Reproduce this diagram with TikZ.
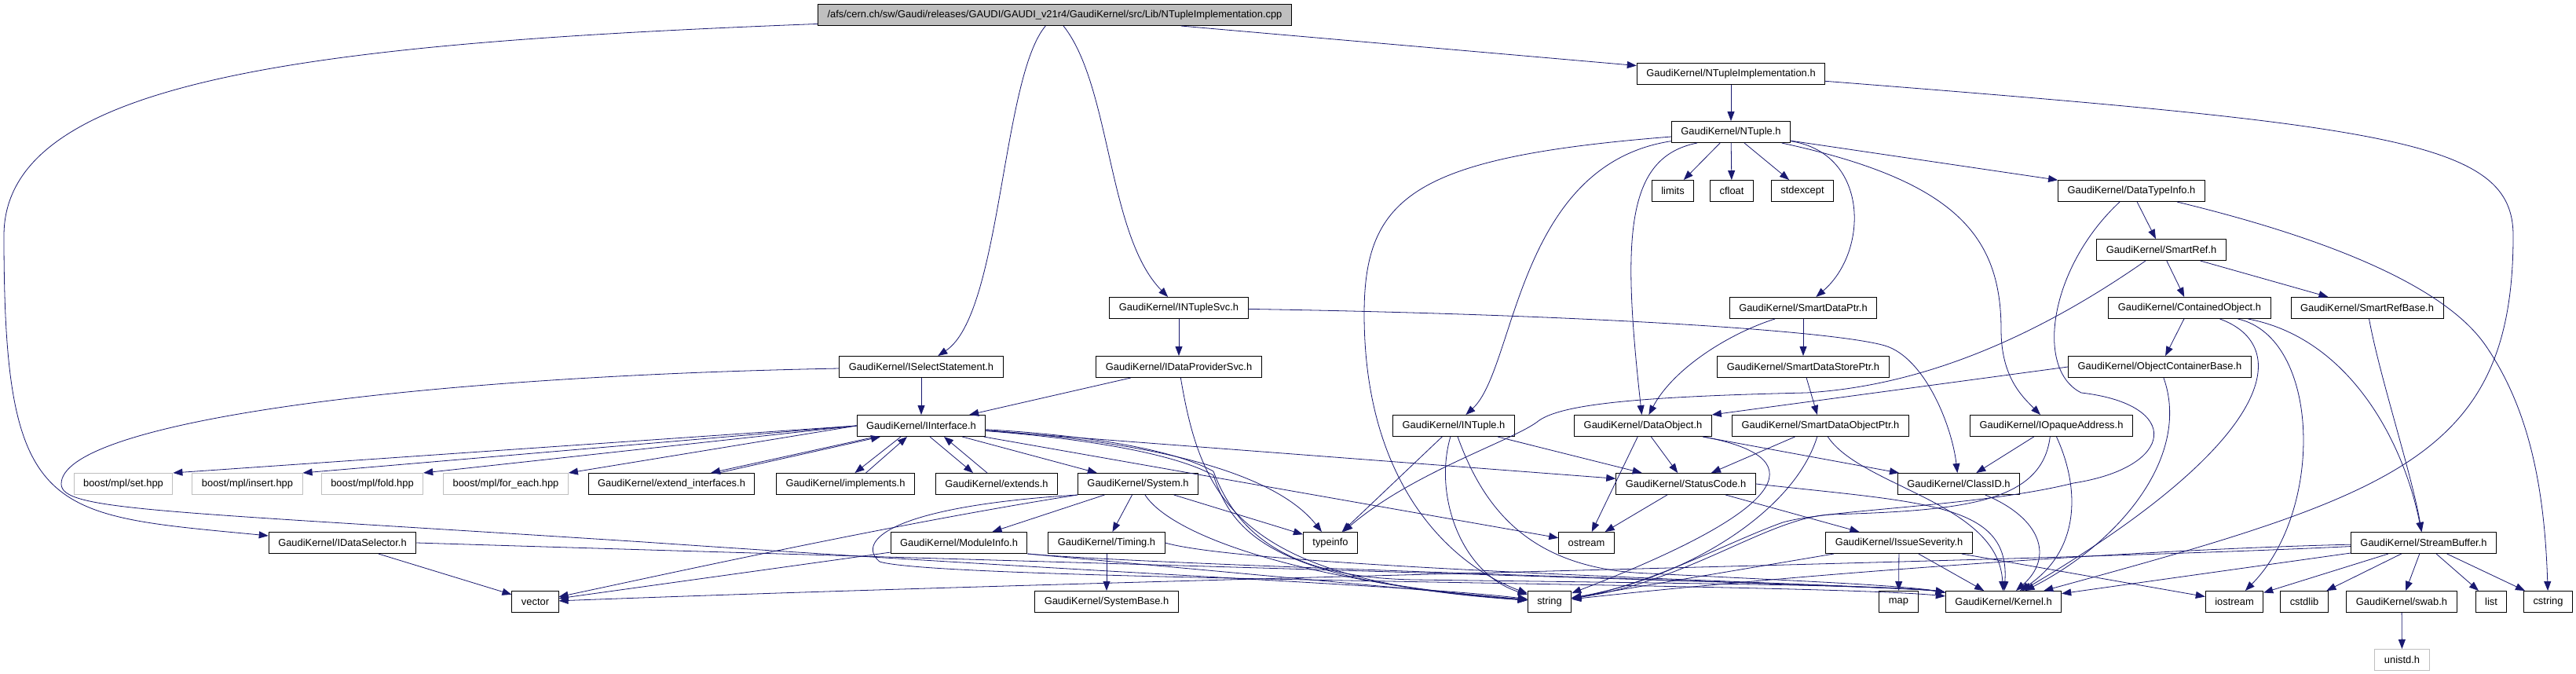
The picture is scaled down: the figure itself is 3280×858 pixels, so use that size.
\documentclass[tikz,border=0pt]{standalone}
\usepackage{fontspec}
\setmainfont{Liberation Sans}
\usetikzlibrary{arrows.meta}
\definecolor{edgeblue}{HTML}{191970}
\definecolor{hdrgray}{HTML}{BFBFBF}
\begin{document}
\begin{tikzpicture}[x=1pt,y=-1pt,
  hfile/.style={draw=black,line width=1pt,minimum height=27pt,inner xsep=12pt,inner ysep=0pt,
    font=\fontsize{12.9}{15}\selectfont},
  sysfile/.style={hfile,draw=hdrgray},
  root/.style={hfile,fill=hdrgray},
  dep/.style={draw=edgeblue,line width=0.8pt,-{Triangle[length=12pt,width=9pt]}}]
  \fill[white] (0,0) rectangle (3280,858);
  \useasboundingbox (0,0) rectangle (3280,858);

  % files, row by row
  \node[root] (top) at (1343,19) {/afs/cern.ch/sw/Gaudi/releases/GAUDI/GAUDI\_v21r4/GaudiKernel/src/Lib/NTupleImplementation.cpp};
  \node[hfile] (ntimpl) at (2204,94) {GaudiKernel/NTupleImplementation.h};
  \node[hfile] (ntuple) at (2204,168) {GaudiKernel/NTuple.h};
  \node[hfile] (limits) at (2130,243) {limits};
  \node[hfile] (cfloat) at (2205,243) {cfloat};
  \node[hfile] (stdexcept) at (2295,243) {stdexcept};
  \node[hfile] (dtinfo) at (2714,243) {GaudiKernel/DataTypeInfo.h};
  \node[hfile] (smartref) at (2752,318) {GaudiKernel/SmartRef.h};
  \node[hfile] (ntsvc) at (1501,392) {GaudiKernel/INTupleSvc.h};
  \node[hfile] (sdptr) at (2296,392) {GaudiKernel/SmartDataPtr.h};
  \node[hfile] (contobj) at (2788,392) {GaudiKernel/ContainedObject.h};
  \node[hfile] (srbase) at (3014,392) {GaudiKernel/SmartRefBase.h};
  \node[hfile] (selstmt) at (1173,467) {GaudiKernel/ISelectStatement.h};
  \node[hfile] (dpsvc) at (1501,467) {GaudiKernel/IDataProviderSvc.h};
  \node[hfile] (sdsptr) at (2296,467) {GaudiKernel/SmartDataStorePtr.h};
  \node[hfile] (objcont) at (2750,467) {GaudiKernel/ObjectContainerBase.h};
  \node[hfile] (iface) at (1173,542) {GaudiKernel/IInterface.h};
  \node[hfile] (intuple) at (1851,542) {GaudiKernel/INTuple.h};
  \node[hfile] (dataobj) at (2092,542) {GaudiKernel/DataObject.h};
  \node[hfile] (sdoptr) at (2318,542) {GaudiKernel/SmartDataObjectPtr.h};
  \node[hfile] (iopaque) at (2612,542) {GaudiKernel/IOpaqueAddress.h};
  \node[sysfile] (mplset) at (157,616) {boost/mpl/set.hpp};
  \node[sysfile] (mplinsert) at (315,616) {boost/mpl/insert.hpp};
  \node[sysfile] (mplfold) at (474,616) {boost/mpl/fold.hpp};
  \node[sysfile] (mplforeach) at (644,616) {boost/mpl/for\_each.hpp};
  \node[hfile] (extif) at (855,616) {GaudiKernel/extend\_interfaces.h};
  \node[hfile] (implem) at (1076.5,616) {GaudiKernel/implements.h};
  \node[hfile] (extends) at (1269,616) {GaudiKernel/extends.h};
  \node[hfile] (system) at (1449,616) {GaudiKernel/System.h};
  \node[hfile] (statcode) at (2146.5,616) {GaudiKernel/StatusCode.h};
  \node[hfile] (classid) at (2494,616) {GaudiKernel/ClassID.h};
  \node[hfile] (datasel) at (436,691) {GaudiKernel/IDataSelector.h};
  \node[hfile] (modinfo) at (1221,691) {GaudiKernel/ModuleInfo.h};
  \node[hfile] (timing) at (1409,691) {GaudiKernel/Timing.h};
  \node[hfile] (typeinfo) at (1694,691) {typeinfo};
  \node[hfile] (ostream) at (2020,691) {ostream};
  \node[hfile] (issue) at (2418,691) {GaudiKernel/IssueSeverity.h};
  \node[hfile] (strbuf) at (3086,691) {GaudiKernel/StreamBuffer.h};
  \node[hfile] (vector) at (681.5,766) {vector};
  \node[hfile] (sysbase) at (1409,766) {GaudiKernel/SystemBase.h};
  \node[hfile] (string) at (1973,766) {string};
  \node[hfile] (map) at (2417.5,766) {map};
  \node[hfile] (kernel) at (2551,766) {GaudiKernel/Kernel.h};
  \node[hfile] (iostream) at (2845,766) {iostream};
  \node[hfile] (cstdlib) at (2934,766) {cstdlib};
  \node[hfile] (swab) at (3058,766) {GaudiKernel/swab.h};
  \node[hfile] (list) at (3172,766) {list};
  \node[hfile] (cstring) at (3244.5,766) {cstring};
  \node[sysfile] (unistd) at (3058.5,840) {unistd.h};

  % source file
  \draw[dep] (top) -- (ntimpl);
  \draw[dep] (top) .. controls (1415,110) and (1410,300) .. (ntsvc);
  \draw[dep] (top) .. controls (1275,100) and (1275,400) .. (selstmt);
  \draw[dep] (top) .. controls (400,55) and (5,100) .. (5,300) .. controls (5,660) and (60,655) .. (datasel);

  \draw[dep] (ntimpl) -- (ntuple);
  \draw[dep] (ntimpl) .. controls (3050,160) and (3200,180) .. (3200,300) .. controls (3200,580) and (3050,630) .. (kernel);

  % NTuple.h
  \draw[dep] (ntuple) -- (limits);
  \draw[dep] (ntuple) -- (cfloat);
  \draw[dep] (ntuple) -- (stdexcept);
  \draw[dep] (ntuple) -- (dtinfo);
  \draw[dep] (ntuple) .. controls (2380,195) and (2380,320) .. (sdptr);
  \draw[dep] (ntuple) .. controls (2490,230) and (2548,300) .. (2548,420) .. controls (2548,480) and (2575,505) .. (iopaque);
  \draw[dep] ([xshift=-43pt]ntuple.south) .. controls (2070,200) and (2065,300) .. (dataobj);
  \draw[dep] (ntuple) .. controls (1930,210) and (1930,470) .. (intuple);
  \draw[dep] (ntuple) .. controls (1800,200) and (1737,250) .. (1737,400) .. controls (1737,620) and (1850,720) .. (string);

  \draw[dep] (ntsvc) -- (dpsvc);
  \draw[dep] (ntsvc) .. controls (2000,400) and (2330,420) .. (2400,440) .. controls (2450,455) and (2485,540) .. (classid);
  \draw[dep] (dpsvc) -- (iface);
  \draw[dep] (dpsvc) .. controls (1530,640) and (1580,740) .. (string);
  \draw[dep] (selstmt) -- (iface);
  \draw[dep] (selstmt) .. controls (500,480) and (78,540) .. (78,616) .. controls (78,650) and (200,650) .. (820,690) .. controls (1400,730) and (1800,745) .. (string);
  \draw[dep] (datasel) -- (vector);
  \draw[dep] (datasel.east) .. controls (1200,712) and (2420,745) .. (kernel);

  % IInterface.h
  \draw[dep] (iface.west) -- (mplset.north east);
  \draw[dep] (iface.west) -- (mplinsert.north east);
  \draw[dep] (iface.west) -- (mplfold.north east);
  \draw[dep] (iface.west) -- (mplforeach.north east);
  \draw[dep] ([xshift=-58pt]iface.south) -- ([xshift=50pt]extif.north);
  \draw[dep] ([xshift=60pt]extif.north) -- ([xshift=-52pt]iface.south);
  \draw[dep] ([xshift=-26pt]iface.south) -- ([xshift=12pt]implem.north);
  \draw[dep] ([xshift=26pt]implem.north) -- ([xshift=-18pt]iface.south);
  \draw[dep] ([xshift=11pt]iface.south) -- ([xshift=-30pt]extends.north);
  \draw[dep] ([xshift=-12pt]extends.north) -- ([xshift=29pt]iface.south);
  \draw[dep] (iface) -- (system);
  \draw[dep] (iface) .. controls (1500,565) and (1630,610) .. (typeinfo);
  \draw[dep] (iface) -- (ostream);
  \draw[dep] (iface) -- (statcode);
  \draw[dep] (iface) .. controls (1400,560) and (1500,580) .. (1545,605) .. controls (1570,680) and (1620,740) .. (string);
  \draw[dep] (iface) .. controls (1400,555) and (1500,575) .. (1545,600) .. controls (1575,680) and (1640,735) .. (1800,738) .. controls (2100,742) and (2420,745) .. (kernel);

  % System.h
  \draw[dep] (system) -- (modinfo);
  \draw[dep] (system) -- (timing);
  \draw[dep] (system) -- (typeinfo);
  \draw[dep] (system.south west) .. controls (1130,668) and (820,737) .. (vector);
  \draw[dep] (system) .. controls (1490,680) and (1650,740) .. (string);
  \draw[dep] (system.south west) .. controls (1130,645) and (1090,690) .. (1120,715) .. controls (1200,740) and (2300,742) .. (kernel);
  \draw[dep] (modinfo) -- (vector);
  \draw[dep] (modinfo.south east) .. controls (1450,718) and (1800,750) .. (string);
  \draw[dep] (modinfo.south east) .. controls (1500,722) and (2420,745) .. (kernel);
  \draw[dep] (timing) -- (sysbase);
  \draw[dep] (timing.east) .. controls (1600,725) and (2420,745) .. (kernel);

  % INTuple.h, DataObject.h and the smart pointers
  \draw[dep] (intuple) -- (typeinfo);
  \draw[dep] (intuple) .. controls (1825,630) and (1860,730) .. (string);
  \draw[dep] (intuple) -- (statcode);
  \draw[dep] (intuple) .. controls (1890,650) and (1950,725) .. (2100,730) .. controls (2300,740) and (2420,745) .. (kernel);
  \draw[dep] (dataobj) -- (ostream);
  \draw[dep] (dataobj) -- (statcode);
  \draw[dep] (dataobj) -- (classid);
  \draw[dep] (dataobj) .. controls (2300,580) and (2300,640) .. (string);
  \draw[dep] (sdptr) -- (sdsptr);
  \draw[dep] ([xshift=-36pt]sdptr.south) .. controls (2200,425) and (2130,470) .. (dataobj);
  \draw[dep] (sdsptr) -- (sdoptr);
  \draw[dep] (sdoptr) -- (statcode);
  \draw[dep] (sdoptr) .. controls (2285,650) and (2150,735) .. (string);
  \draw[dep] (sdoptr) .. controls (2370,620) and (2545,640) .. (kernel);

  \draw[dep] (statcode) -- (ostream);
  \draw[dep] (statcode) -- (issue);
  \draw[dep] (statcode.east) .. controls (2450,640) and (2560,640) .. (kernel);
  \draw[dep] (issue) -- (map);
  \draw[dep] (issue) -- (string);
  \draw[dep] (issue) -- (iostream);
  \draw[dep] (issue) -- (kernel);
  \draw[dep] (classid) .. controls (2600,660) and (2615,710) .. (kernel);
  \draw[dep] (iopaque) -- (classid);
  \draw[dep] (iopaque) .. controls (2600,640) and (2500,650) .. (2330,655) .. controls (2250,660) and (2150,740) .. (string);
  \draw[dep] (iopaque) .. controls (2648,620) and (2650,700) .. (kernel);

  % DataTypeInfo.h and SmartRef.h
  \draw[dep] (dtinfo) -- (smartref);
  \draw[dep] (dtinfo) .. controls (2950,300) and (3110,360) .. (3165,440) .. controls (3220,520) and (3240,620) .. (cstring);
  \draw[dep] (dtinfo) .. controls (2610,340) and (2590,470) .. (2650,500) .. controls (2780,515) and (2770,595) .. (2640,615) .. controls (2520,645) and (2330,648) .. (2270,665) .. controls (2200,690) and (2100,745) .. (string);
  \draw[dep] (smartref) -- (contobj);
  \draw[dep] (smartref) -- (srbase);
  \draw[dep] (smartref) .. controls (2620,410) and (2470,490) .. (2300,500) .. controls (2080,505) and (1990,515) .. (1960,535) .. controls (1930,560) and (1800,600) .. (typeinfo);
  \draw[dep] (contobj) -- (objcont);
  \draw[dep] (contobj) .. controls (2920,440) and (2900,560) .. (kernel);
  \draw[dep] (contobj) .. controls (2955,430) and (2960,650) .. (iostream);
  \draw[dep] (contobj) .. controls (2990,430) and (3060,560) .. (strbuf);
  \draw[dep] (srbase) .. controls (3030,480) and (3070,600) .. (strbuf);
  \draw[dep] (objcont.west) -- (dataobj.north east);
  \draw[dep] (objcont) .. controls (2790,580) and (2700,690) .. (kernel);

  % StreamBuffer.h
  \draw[dep] (strbuf) .. controls (2700,700) and (2250,735) .. (string);
  \draw[dep] (strbuf) .. controls (2600,715) and (1500,735) .. (vector);
  \draw[dep] (strbuf) -- (kernel);
  \draw[dep] (strbuf) -- (iostream);
  \draw[dep] (strbuf) -- (cstdlib);
  \draw[dep] (strbuf) -- (swab);
  \draw[dep] (strbuf) -- (list);
  \draw[dep] (strbuf) -- (cstring);
  \draw[dep] (swab) -- (unistd);
\end{tikzpicture}
\end{document}
